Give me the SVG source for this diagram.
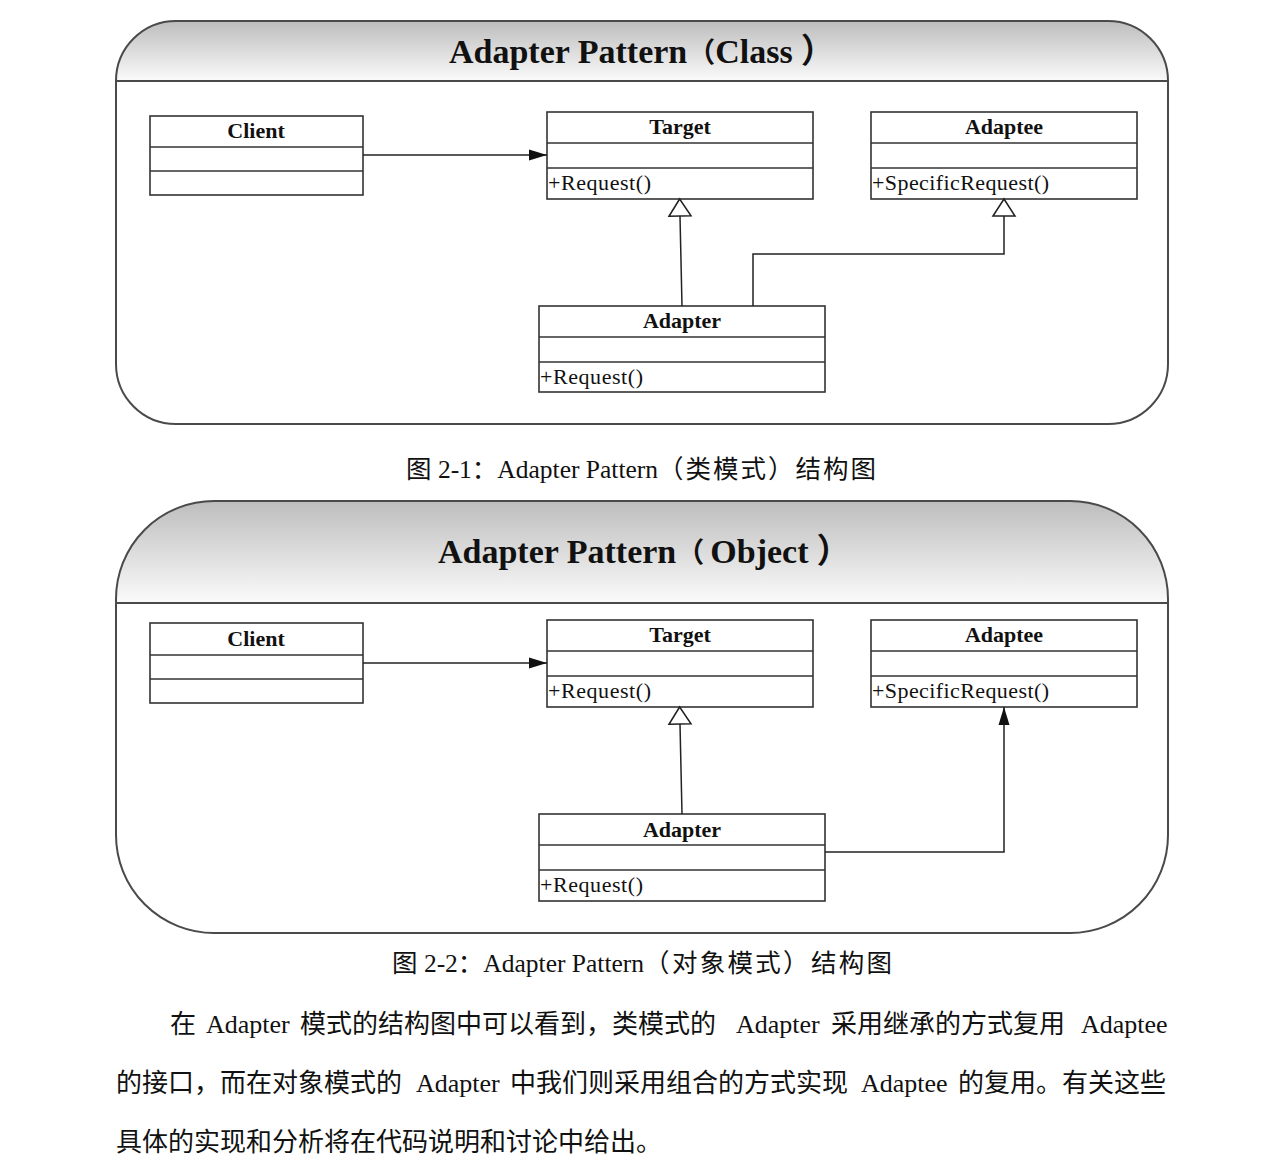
<svg xmlns="http://www.w3.org/2000/svg" width="1284" height="1166" viewBox="0 0 1284 1166">
  <style>
    .panel { fill: none; stroke: #4a4a4a; stroke-width: 2; }
    .sep { stroke: #4a4a4a; stroke-width: 2; }
    .box { fill: #ffffff; stroke: #333333; stroke-width: 1.6; }
    .div { stroke: #333333; stroke-width: 1.6; }
    .conn { fill: none; stroke: #222222; stroke-width: 1.5; }
    .title { font-family: "Liberation Serif", "Noto Sans CJK SC", serif; font-weight: bold; font-size: 34px; fill: #111; }
    .cname { font-family: "Liberation Serif", serif; font-weight: bold; font-size: 22px; fill: #111; text-anchor: middle; }
    .op { font-family: "Liberation Serif", serif; font-size: 22px; fill: #111; }
    .cap { font-family: "Liberation Serif", "Noto Sans CJK SC", serif; font-size: 25.5px; fill: #111; }
    .body { font-family: "Liberation Serif", "Noto Sans CJK SC", serif; font-size: 26px; fill: #111; }
  </style>
  <defs>
    <linearGradient id="hdr" x1="0" y1="0" x2="0" y2="1">
      <stop offset="0" stop-color="#bdbdbd"/>
      <stop offset="1" stop-color="#fbfbfb"/>
    </linearGradient>
    <marker id="filled" markerUnits="userSpaceOnUse" markerWidth="18" markerHeight="12" viewBox="0 0 18 12" refX="18" refY="6" orient="auto">
      <path d="M0,0.5 L18,6 L0,11.5 Z" fill="#111"/>
    </marker>
    <marker id="hollow" markerUnits="userSpaceOnUse" markerWidth="20" markerHeight="26" viewBox="0 0 20 26" refX="1" refY="13" orient="auto">
      <path d="M1,2 L18,13 L1,24 Z" fill="#ffffff" stroke="#222222" stroke-width="1.5"/>
    </marker>
  </defs>
  <rect width="1284" height="1166" fill="#ffffff"/>

  <!-- Panel 1 -->
  <g id="panel-class">
    <path d="M116,81 A60,60 0 0 1 176,21 H1108 A60,60 0 0 1 1168,81 Z" fill="url(#hdr)"/>
    <rect class="panel" x="116" y="21" width="1052" height="403" rx="60" ry="60"/>
    <line class="sep" x1="116" y1="81" x2="1168" y2="81"/>
    <text class="title" x="449" y="63">Adapter Pattern<tspan font-size="28">（</tspan>Class<tspan dx="8">）</tspan></text>
  </g>

  <g id="c1-client">
    <rect class="box" x="150" y="116" width="213" height="79"/>
    <line class="div" x1="150" y1="147" x2="363" y2="147"/>
    <line class="div" x1="150" y1="171" x2="363" y2="171"/>
    <text class="cname" x="256" y="138">Client</text>
  </g>
  <g id="c1-target">
    <rect class="box" x="547" y="112" width="266" height="87"/>
    <line class="div" x1="547" y1="143" x2="813" y2="143"/>
    <line class="div" x1="547" y1="168" x2="813" y2="168"/>
    <text class="cname" x="680" y="134">Target</text>
    <text class="op" x="548" y="190" textLength="103">+Request()</text>
  </g>
  <g id="c1-adaptee">
    <rect class="box" x="871" y="112" width="266" height="87"/>
    <line class="div" x1="871" y1="143" x2="1137" y2="143"/>
    <line class="div" x1="871" y1="168" x2="1137" y2="168"/>
    <text class="cname" x="1004" y="134">Adaptee</text>
    <text class="op" x="872" y="190" textLength="177">+SpecificRequest()</text>
  </g>
  <g id="c1-adapter">
    <rect class="box" x="539" y="306" width="286" height="86"/>
    <line class="div" x1="539" y1="337" x2="825" y2="337"/>
    <line class="div" x1="539" y1="362" x2="825" y2="362"/>
    <text class="cname" x="682" y="328">Adapter</text>
    <text class="op" x="540" y="384" textLength="103">+Request()</text>
  </g>

  <g id="connectors-class">
    <line class="conn" x1="363" y1="155" x2="547" y2="155" marker-end="url(#filled)"/>
    <path class="conn" d="M682,306 L680,216" marker-end="url(#hollow)"/>
    <path class="conn" d="M753,306 V254 H1004 V216" marker-end="url(#hollow)"/>
  </g>

  <text id="caption-1" class="cap" x="406" y="478">图 2-1：Adapter Pattern<tspan letter-spacing="2">（类模式）结构图</tspan></text>

  <!-- Panel 2 -->
  <g id="panel-object">
    <path d="M116,603 V599 A98,98 0 0 1 214,501 H1070 A98,98 0 0 1 1168,599 V603 Z" fill="url(#hdr)"/>
    <rect class="panel" x="116" y="501" width="1052" height="432" rx="98" ry="98"/>
    <line class="sep" x1="116" y1="603" x2="1168" y2="603"/>
    <text class="title" x="438" y="563">Adapter Pattern<tspan font-size="28">（</tspan><tspan dx="6">Object</tspan><tspan dx="8">）</tspan></text>
  </g>

  <g id="c2-client">
    <rect class="box" x="150" y="623" width="213" height="80"/>
    <line class="div" x1="150" y1="655" x2="363" y2="655"/>
    <line class="div" x1="150" y1="679" x2="363" y2="679"/>
    <text class="cname" x="256" y="646">Client</text>
  </g>
  <g id="c2-target">
    <rect class="box" x="547" y="620" width="266" height="87"/>
    <line class="div" x1="547" y1="651" x2="813" y2="651"/>
    <line class="div" x1="547" y1="676" x2="813" y2="676"/>
    <text class="cname" x="680" y="642">Target</text>
    <text class="op" x="548" y="698" textLength="103">+Request()</text>
  </g>
  <g id="c2-adaptee">
    <rect class="box" x="871" y="620" width="266" height="87"/>
    <line class="div" x1="871" y1="651" x2="1137" y2="651"/>
    <line class="div" x1="871" y1="676" x2="1137" y2="676"/>
    <text class="cname" x="1004" y="642">Adaptee</text>
    <text class="op" x="872" y="698" textLength="177">+SpecificRequest()</text>
  </g>
  <g id="c2-adapter">
    <rect class="box" x="539" y="814" width="286" height="87"/>
    <line class="div" x1="539" y1="845" x2="825" y2="845"/>
    <line class="div" x1="539" y1="870" x2="825" y2="870"/>
    <text class="cname" x="682" y="837">Adapter</text>
    <text class="op" x="540" y="892" textLength="103">+Request()</text>
  </g>

  <g id="connectors-object">
    <line class="conn" x1="363" y1="663" x2="547" y2="663" marker-end="url(#filled)"/>
    <path class="conn" d="M682,814 L680,724" marker-end="url(#hollow)"/>
    <path class="conn" d="M825,852 H1004 V707" marker-end="url(#filled)"/>
  </g>

  <text id="caption-2" class="cap" x="392" y="972">图 2-2：Adapter Pattern<tspan letter-spacing="2.3">（对象模式）结构图</tspan></text>

  <g id="paragraph">
    <text class="body" y="1033"><tspan x="170">在</tspan><tspan x="206">Adapter</tspan><tspan x="300">模式的结构图中可以看到，类模式的</tspan><tspan x="736">Adapter</tspan><tspan x="831">采用继承的方式复用</tspan><tspan x="1081">Adaptee</tspan></text>
    <text class="body" y="1092"><tspan x="116">的接口，而在对象模式的</tspan><tspan x="416">Adapter</tspan><tspan x="510">中我们则采用组合的方式实现</tspan><tspan x="861">Adaptee</tspan><tspan x="958">的复用。有关这些</tspan></text>
    <text class="body" x="116" y="1151">具体的实现和分析将在代码说明和讨论中给出。</text>
  </g>
</svg>
